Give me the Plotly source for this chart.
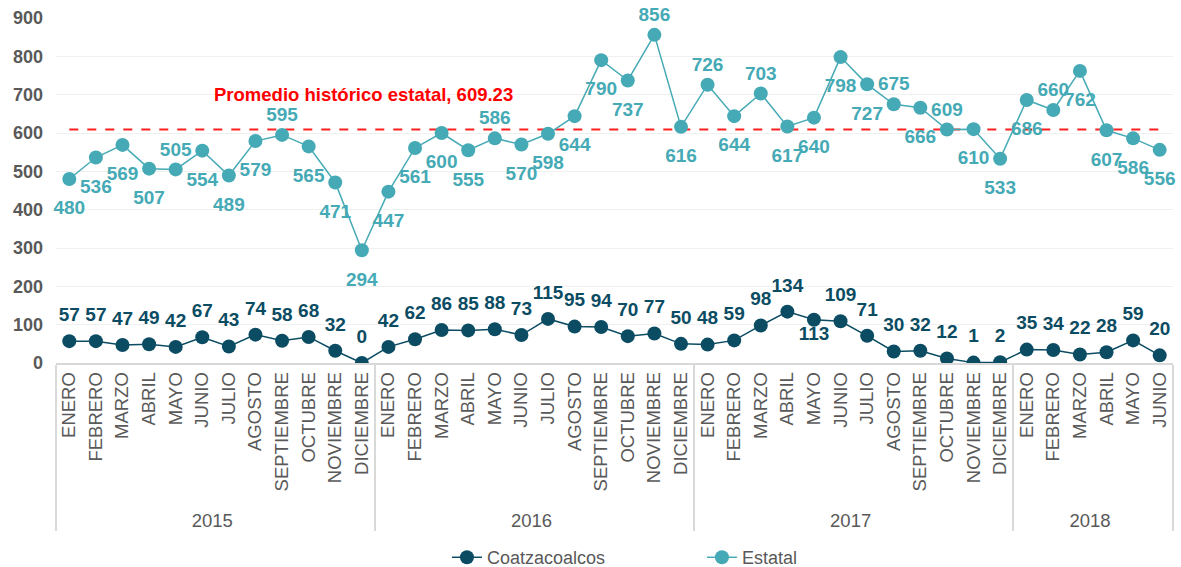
import plotly.graph_objects as go

MESES = ["ENERO", "FEBRERO", "MARZO", "ABRIL", "MAYO", "JUNIO", "JULIO", "AGOSTO",
         "SEPTIEMBRE", "OCTUBRE", "NOVIEMBRE", "DICIEMBRE"]
ANIOS = ["2015", "2016", "2017", "2018"]
MESES_POR_ANIO = [12, 12, 12, 6]

estatal = [480, 536, 569, 507, 505, 554, 489, 579, 595, 565, 471, 294,
           447, 561, 600, 555, 586, 570, 598, 644, 790, 737, 856, 616,
           726, 644, 703, 617, 640, 798, 727, 675, 666, 609, 610, 533,
           686, 660, 762, 607, 586, 556]
coatza = [57, 57, 47, 49, 42, 67, 43, 74, 58, 68, 32, 0,
          42, 62, 86, 85, 88, 73, 115, 95, 94, 70, 77, 50,
          48, 59, 98, 134, 113, 109, 71, 30, 32, 12, 1, 2,
          35, 34, 22, 28, 59, 20]
promedio = 609.23

# label positions (T = above, B = below)
est_pos = ["B", "B", "B", "B", "T", "B", "B", "B", "T", "B", "B", "B",
           "B", "B", "B", "B", "T", "B", "B", "B", "B", "B", "T", "B",
           "T", "B", "T", "B", "B", "B", "B", "T", "B", "T", "B", "B",
           "B", "T", "B", "B", "B", "B"]
coa_pos = ["T"] * 42
coa_pos[28] = "B"

POS = {"T": "top center", "B": "bottom center"}
# invisible marker sizes only used to push labels away from the points
EST_GAP = {"T": 13, "B": 32}
COA_GAP = {"T": 23, "B": 8}

anios_x, meses_x = [], []
for a, n in zip(ANIOS, MESES_POR_ANIO):
    anios_x += [a] * n
    meses_x += MESES[:n]
x = [anios_x, meses_x]

C_COA = "#0B4C63"
C_EST = "#45AAB5"
GRIS = "#595959"
FONT = "Liberation Sans, Arial, sans-serif"

fig = go.Figure()
fig.add_trace(go.Scatter(
    x=x, y=[promedio] * len(estatal), mode="lines", showlegend=False,
    line=dict(color="#FF2020", width=2, dash="dash"), hoverinfo="skip"))
fig.add_trace(go.Scatter(
    x=x, y=coatza, name="Coatzacoalcos", mode="lines+markers",
    line=dict(color=C_COA, width=1.5), marker=dict(size=14, color=C_COA)))
fig.add_trace(go.Scatter(
    x=x, y=estatal, name="Estatal", mode="lines+markers",
    line=dict(color=C_EST, width=1.5), marker=dict(size=14, color=C_EST)))

# data labels
for vals, pos, gap, col in [(coatza, coa_pos, COA_GAP, C_COA),
                            (estatal, est_pos, EST_GAP, C_EST)]:
    fig.add_trace(go.Scatter(
        x=x, y=vals, mode="markers+text", showlegend=False, hoverinfo="skip",
        marker=dict(size=[gap[p] for p in pos], opacity=0,
                    line=dict(width=0)),
        text=[str(v) for v in vals], textposition=[POS[p] for p in pos],
        textfont=dict(family=FONT, size=19, color=col, weight="bold"),
        cliponaxis=False))

fig.add_annotation(
    x=0.275, xref="paper", xanchor="center", y=700, yref="y",
    text="<b>Promedio histórico estatal, 609.23</b>", showarrow=False,
    font=dict(family=FONT, size=18.5, color="#FF0000"))

fig.update_layout(
    width=1181, height=584,
    plot_bgcolor="white", paper_bgcolor="white",
    font=dict(family=FONT, size=17, color=GRIS),
    margin=dict(l=56, r=8, t=18, b=211),
    legend=dict(orientation="h", x=0.35, xanchor="left", y=-0.564, yanchor="middle",
                entrywidth=210, font=dict(size=18, color=GRIS)),
    xaxis=dict(type="multicategory", range=[-0.5, 41.5], automargin=False,
               tickangle=-90, showgrid=False,
               showline=True, linecolor="#D9D9D9", linewidth=1.5,
               showdividers=True, dividercolor="#D9D9D9", dividerwidth=1.5,
               tickfont=dict(size=18.5, color=GRIS)),
    yaxis=dict(range=[0, 900], dtick=100, showgrid=True, gridcolor="#F0F0F0",
               zeroline=False, showline=False, automargin=False,
               ticklabelstandoff=12,
               tickfont=dict(size=18, color=GRIS, weight="bold")),
)

# drop the default page margin so the figure fills the window exactly
fig.write_html("out.html", config={"displayModeBar": False}, post_script=(
    "document.body.style.margin='0';"
    "document.documentElement.style.overflow='hidden';"))
